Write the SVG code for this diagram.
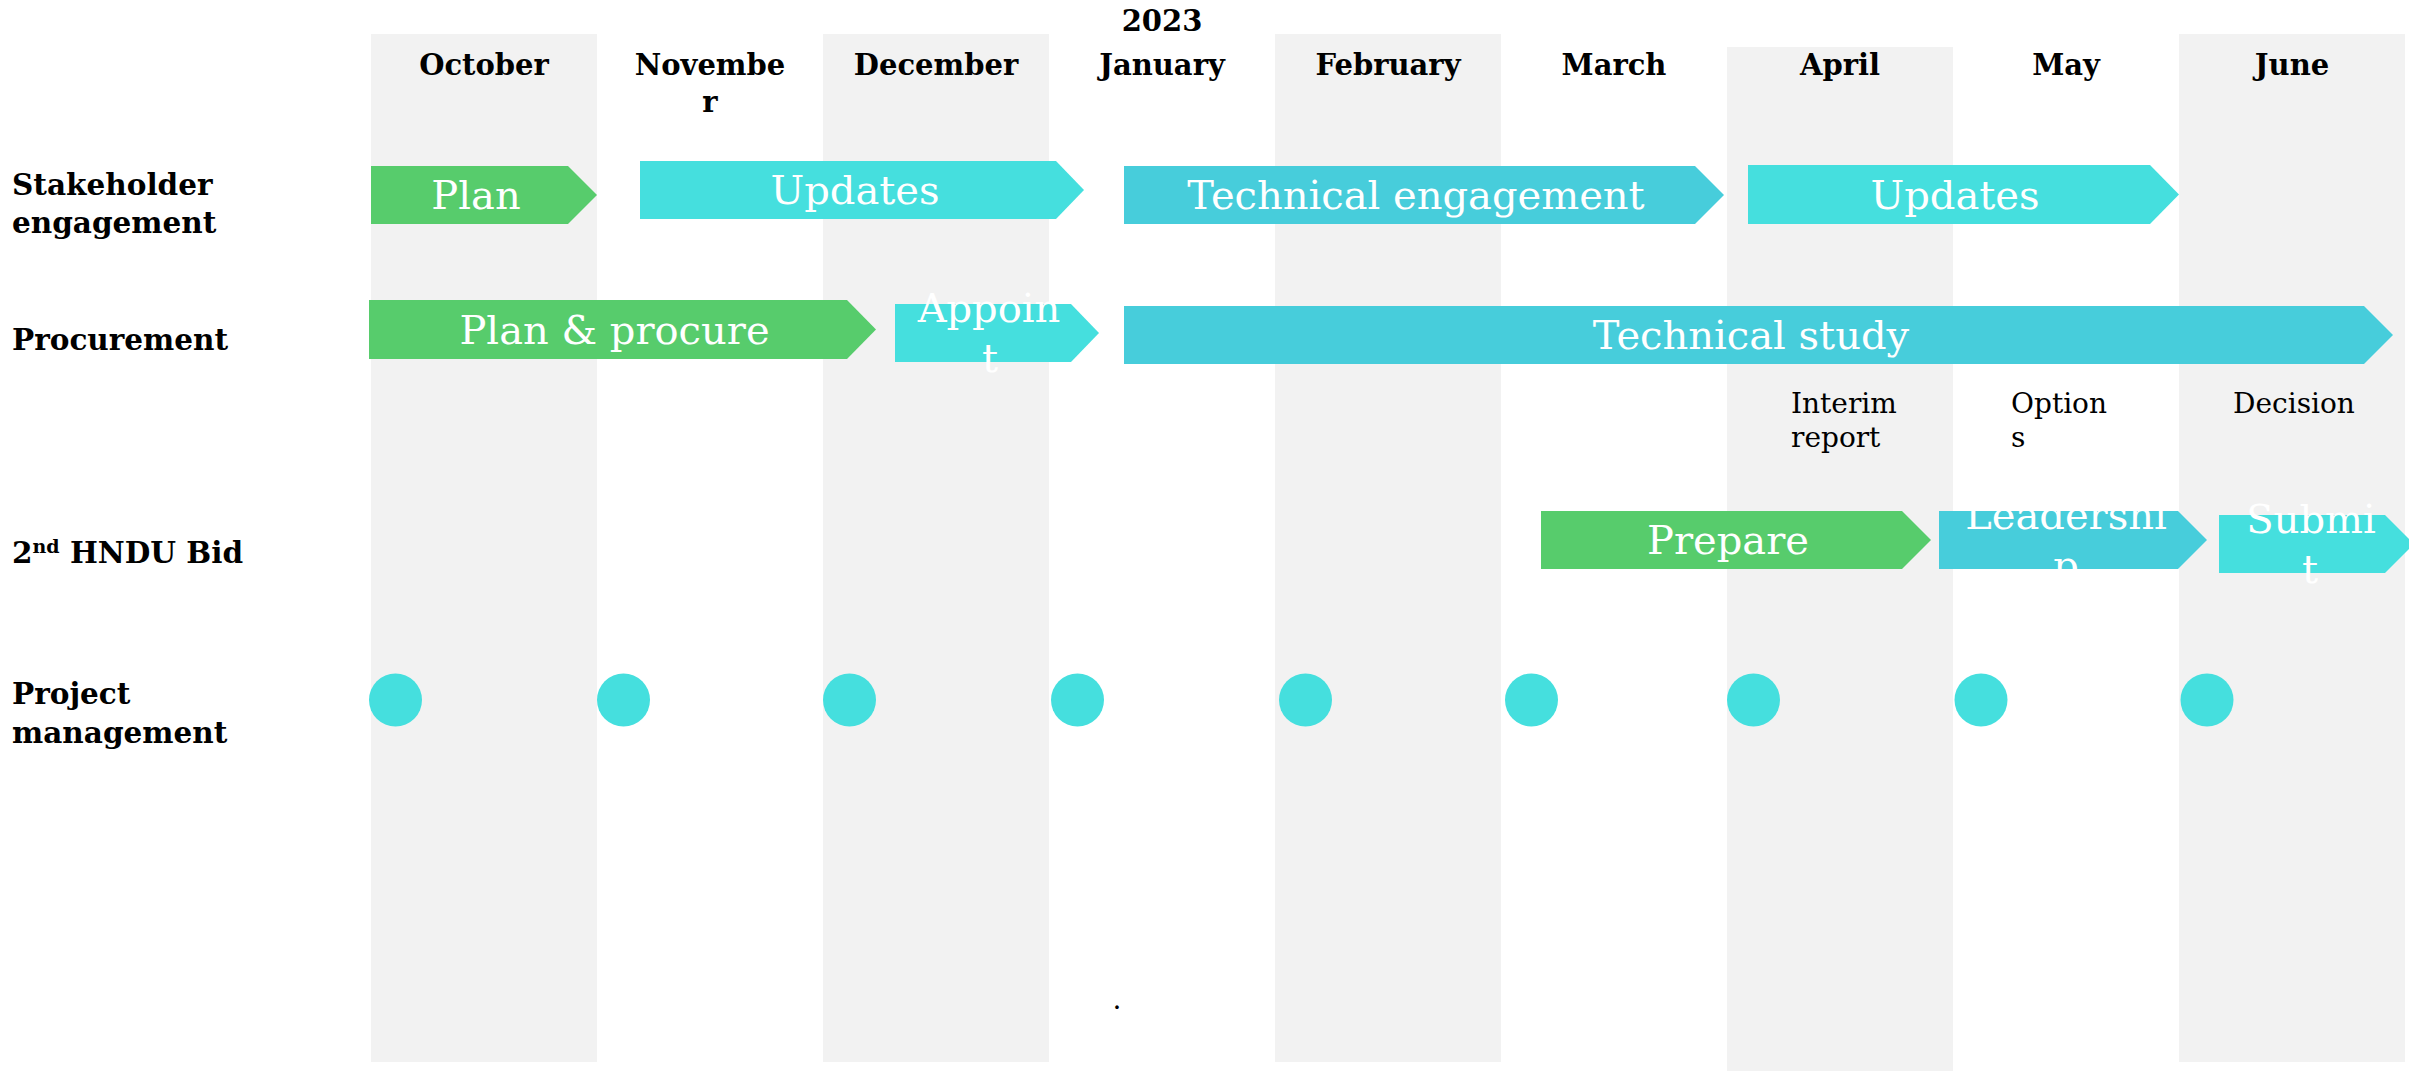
<svg xmlns="http://www.w3.org/2000/svg" width="2409" height="1073" viewBox="0 0 2409 1073">
<style>
.shade{fill:#F2F2F2}
.g{fill:#57CC6C}
.c1{fill:#45DFDE}
.c2{fill:#47CDDB}
.dot{fill:#45DFDE}
.bt{font-family:"DejaVu Serif","Liberation Serif",serif;font-size:40px;fill:#FFFFFF;text-anchor:middle}
.lbl{font-family:"DejaVu Serif","Liberation Serif",serif;font-size:29.5px;font-weight:bold;fill:#000000}
.mon{font-family:"DejaVu Serif","Liberation Serif",serif;font-size:29px;font-weight:bold;fill:#000000;text-anchor:middle}
.ms{font-family:"DejaVu Serif","Liberation Serif",serif;font-size:28px;fill:#000000}
</style>
<defs>
<clipPath id="clipLead"><rect x="1930" y="511" width="290" height="63"/></clipPath>
</defs>
<rect x="0" y="0" width="2409" height="1073" fill="#FFFFFF"/>
<g id="columns">
<rect class="shade" x="371" y="34" width="226" height="1028"/>
<rect class="shade" x="823" y="34" width="226" height="1028"/>
<rect class="shade" x="1275" y="34" width="226" height="1028"/>
<rect class="shade" x="1727" y="47" width="226" height="1024"/>
<rect class="shade" x="2179" y="34" width="226" height="1028"/>
</g>
<g id="months">
<text class="mon" x="1162" y="31">2023</text>
<text class="mon" x="484" y="75">October</text>
<text class="mon" x="710" y="75">Novembe</text>
<text class="mon" x="710" y="112">r</text>
<text class="mon" x="936" y="75">December</text>
<text class="mon" x="1162" y="75">January</text>
<text class="mon" x="1388" y="75">February</text>
<text class="mon" x="1614" y="75">March</text>
<text class="mon" x="1840" y="75">April</text>
<text class="mon" x="2066" y="75">May</text>
<text class="mon" x="2292" y="75">June</text>
</g>
<g id="row-labels">
<text class="lbl" x="12" y="195">Stakeholder</text>
<text class="lbl" x="12" y="233">engagement</text>
<text class="lbl" x="12" y="350">Procurement</text>
<text class="lbl" x="12" y="563">2<tspan font-size="19" dy="-10">nd</tspan><tspan dy="10"> HNDU Bid</tspan></text>
<text class="lbl" x="12" y="704">Project</text>
<text class="lbl" x="12" y="743">management</text>
</g>
<g id="connectors"></g>
<g id="bar-plan">
<polygon class="g" points="371,166 568,166 597,195 568,224 371,224"/>
<text class="bt" x="476" y="209">Plan</text>
</g>
<g id="bar-updates-1">
<polygon class="c1" points="640,161 1056,161 1084,190 1056,219 640,219"/>
<text class="bt" x="855" y="204">Updates</text>
</g>
<g id="bar-technical-engagement">
<polygon class="c2" points="1124,166 1695,166 1724,195 1695,224 1124,224"/>
<text class="bt" x="1416" y="209">Technical engagement</text>
</g>
<g id="bar-updates-2">
<polygon class="c1" points="1748,165 2150,165 2179,194.5 2150,224 1748,224"/>
<text class="bt" x="1955" y="208.5">Updates</text>
</g>
<g id="bar-plan-procure">
<polygon class="g" points="369,300 847,300 876,329.5 847,359 369,359"/>
<text class="bt" x="614.5" y="344">Plan &amp; procure</text>
</g>
<g id="bar-appoint">
<polygon class="c1" points="895,304 1071,304 1099,333 1071,362 895,362"/>
<text class="bt" x="989" y="322">Appoin</text>
<text class="bt" x="990" y="372">t</text>
</g>
<g id="bar-technical-study">
<polygon class="c2" points="1124,306 2364,306 2393,335 2364,364 1124,364"/>
<text class="bt" x="1751" y="349">Technical study</text>
</g>
<g id="milestones">
<text class="ms" x="1791" y="413">Interim</text>
<text class="ms" x="1791" y="447">report</text>
<text class="ms" x="2011" y="413">Option</text>
<text class="ms" x="2011" y="447">s</text>
<text class="ms" x="2233" y="413">Decision</text>
</g>
<g id="bar-prepare">
<polygon class="g" points="1541,511 1902,511 1931,540 1902,569 1541,569"/>
<text class="bt" x="1728" y="554">Prepare</text>
</g>
<g id="bar-leadership">
<polygon class="c2" points="1939,511 2178,511 2207,540 2178,569 1939,569"/>
<g clip-path="url(#clipLead)">
<text class="bt" x="2066" y="529">Leadershi</text>
<text class="bt" x="2066" y="579">p</text>
</g>
</g>
<g id="bar-submit">
<polygon class="c1" points="2219,515 2385,515 2414,544 2385,573 2219,573"/>
<text class="bt" x="2311" y="533">Submi</text>
<text class="bt" x="2310" y="583">t</text>
</g>
<g id="project-management">
<circle class="dot" cx="395.5" cy="700" r="26.5"/>
<circle class="dot" cx="623.5" cy="700" r="26.5"/>
<circle class="dot" cx="849.5" cy="700" r="26.5"/>
<circle class="dot" cx="1077.5" cy="700" r="26.5"/>
<circle class="dot" cx="1305.5" cy="700" r="26.5"/>
<circle class="dot" cx="1531.5" cy="700" r="26.5"/>
<circle class="dot" cx="1753.5" cy="700" r="26.5"/>
<circle class="dot" cx="1981" cy="700" r="26.5"/>
<circle class="dot" cx="2207" cy="700" r="26.5"/>
</g>
<text class="ms" x="1117" y="1009" font-size="20" text-anchor="middle">.</text>
</svg>
